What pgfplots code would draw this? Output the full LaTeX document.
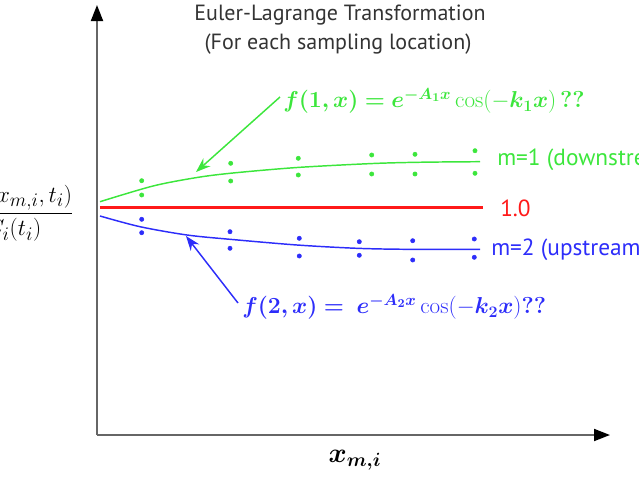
\documentclass[border=0pt]{standalone}
\usepackage{pgfplots}
\pgfplotsset{compat=1.18}
\usepackage{amsmath}
\usepackage{bm}
\usepackage[no-math]{fontspec}
\setmainfont{PT Sans}
\usetikzlibrary{arrows.meta}

\definecolor{cgreen}{RGB}{60,230,60}
\definecolor{cred}{RGB}{255,25,25}
\definecolor{cblue}{RGB}{45,45,250}
\definecolor{cgray}{RGB}{51,51,51}

\begin{document}
\begin{tikzpicture}
\begin{axis}[
    scale only axis,
    width=384.75pt, height=322.5pt,
    xmin=97, xmax=610, ymin=45, ymax=475,
    axis lines=left,
    axis line style={draw=black!60, line width=1.4pt,
        -{Triangle[length=12pt,width=9pt,color=black]}},
    xtick=\empty, ytick=\empty,
    clip=false,
]
% flat reference line
\addplot[cred, line width=2.6pt] coordinates {(100,272.3) (483,272.3)};
% m=1 curve and samples
\addplot[cgreen, line width=1.1pt, smooth] coordinates {
    (100,278.3) (153,294) (197,302.5) (233,307) (297,312.5)
    (373,316.5) (423,317.8) (480,318.3)};
\addplot[cgreen, only marks, mark=*, mark size=1.6pt] coordinates {
    (141.7,299.3) (141.7,285) (230.7,316.7) (230.7,299)
    (298.3,321.7) (298.3,305) (371.7,325) (371.7,306)
    (415,325.7) (415,306) (475,329.3) (475,306.7)};
% m=2 curve and samples
\addplot[cblue, line width=1.1pt, smooth] coordinates {
    (100,264) (140,253.3) (187,245) (230,240.7) (297,235)
    (357,231.7) (407,230.7) (480,230.7)};
\addplot[cblue, only marks, mark=*, mark size=1.6pt] coordinates {
    (141.7,260.7) (141.7,247.3) (230,248.3) (230,231.7)
    (299.3,241.7) (299.3,224) (359.3,238.3) (359.3,224.7)
    (412.7,239.3) (412.7,220) (474.3,241) (474.3,222.7)};

% annotations
\draw[cgreen, line width=1.1pt, -{Stealth[length=11pt,width=8pt]}]
    (axis cs:280,383) -- (axis cs:196,308);
\draw[cblue, line width=1.1pt, -{Stealth[length=11pt,width=8pt]}]
    (axis cs:238,177) -- (axis cs:186,244);

\node[text=cgray, font=\fontsize{16.5}{20}\selectfont] at (axis cs:340,465)
    {Euler-Lagrange Transformation};
\node[text=cgray, font=\fontsize{16.5}{20}\selectfont] at (axis cs:338,436)
    {(For each sampling location)};

\node[text=cgreen, anchor=west, inner sep=0pt, font=\fontsize{17.5}{21}\selectfont]
    at (axis cs:283,379) {$\bm{f(1,x) = e^{-A_1 x}}\cos(-\bm{k_1 x})\,\bm{??}$};
\node[text=cblue, anchor=west, inner sep=0pt, font=\fontsize{17.5}{21}\selectfont]
    at (axis cs:242,173) {$\bm{f(2,x) =}\ \bm{e^{-A_2 x}}\cos(-\bm{k_2 x})\bm{??}$};

\node[text=cgreen, anchor=west, inner sep=0pt, font=\fontsize{17.5}{21}\selectfont]
    at (axis cs:497,320) {m=1 (downstream)};
\node[text=cred, anchor=west, inner sep=0pt, font=\fontsize{17.5}{21}\selectfont]
    at (axis cs:500,272) {1.0};
\node[text=cblue, anchor=west, inner sep=0pt, font=\fontsize{17.5}{21}\selectfont]
    at (axis cs:491,230) {m=2 (upstream)};

\node[font=\fontsize{20}{24}\selectfont] at (axis cs:355,20) {$\bm{x_{m,i}}$};
\node[anchor=east, inner sep=0pt, font=\fontsize{19}{23}\selectfont]
    at (axis cs:74,267) {$\dfrac{C_m(x_{m,i},t_i)}{C_i(t_i)}$};

\coordinate (BL) at (axis cs:0,0);
\coordinate (TR) at (axis cs:639,480);
\end{axis}
\pgfresetboundingbox
\path[use as bounding box] (BL) rectangle (TR);
\end{tikzpicture}
\end{document}
